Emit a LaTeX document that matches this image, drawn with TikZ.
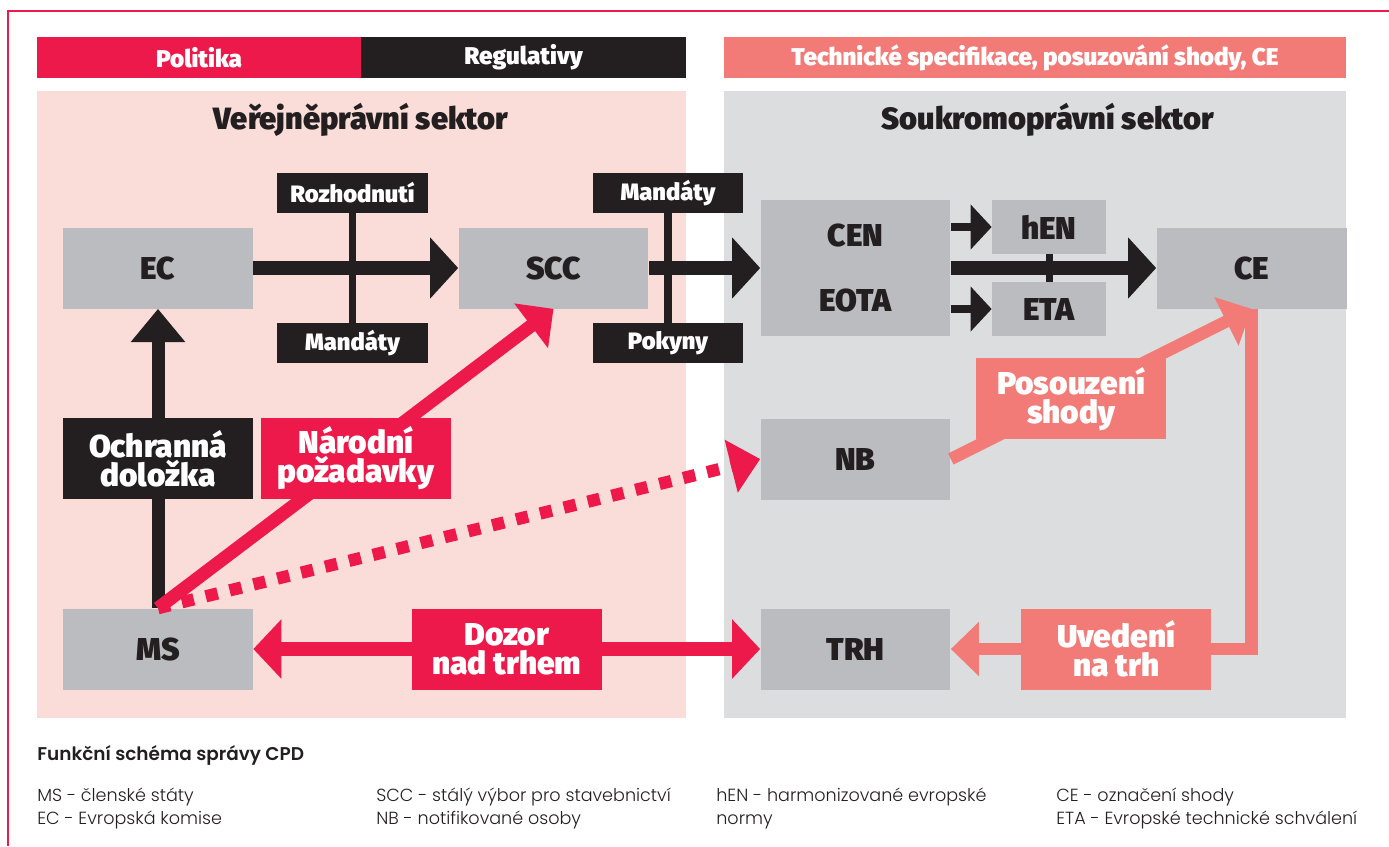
\documentclass[tikz,border=0pt]{standalone}
\usepackage{fontspec}
\setmainfont{Fira Sans}
\newfontfamily\heavyfont{Fira Sans Black}
\newfontfamily\legendfont{Poppins Light}
\newfontfamily\legendhead{Poppins SemiBold}
\usetikzlibrary{arrows.meta, positioning}
\definecolor{crimson}{RGB}{238,25,75}
\definecolor{ink}{RGB}{35,31,32}
\definecolor{salmon}{RGB}{242,123,120}
\definecolor{blush}{RGB}{250,220,216}
\definecolor{mist}{RGB}{220,221,223}
\definecolor{boxgray}{RGB}{187,188,192}

\begin{document}
\begin{tikzpicture}[x=0.02cm, y=-0.02cm]
  \tikzstyle{unit} = [rectangle, fill=boxgray, inner sep=0pt, minimum width=3.8cm, minimum height=1.62cm, font=\heavyfont\fontsize{18}{20}\selectfont, text=ink]
  \tikzstyle{tag} = [rectangle, fill=ink, inner sep=0pt, minimum width=3.02cm, minimum height=0.8cm, font=\heavyfont\fontsize{13.5}{15}\selectfont, text=white]
  \tikzstyle{note} = [rectangle, inner sep=0pt, minimum width=3.8cm, minimum height=1.62cm, align=center, font=\heavyfont\fontsize{18}{16.5}\selectfont, text=white]
  \tikzstyle{head} = [rectangle, inner sep=0pt, minimum height=0.82cm, font=\heavyfont\fontsize{13.8}{15}\selectfont, text=white]
  \tikzstyle{title} = [font=\heavyfont\fontsize{17.5}{19}\selectfont, text=ink]
  \tikzstyle{legend} = [anchor=north west, inner sep=0pt, align=left, font=\legendfont\fontsize{10}{13}\selectfont, text=ink]
  \tikzstyle{stem} = [ink, line width=4pt]
  \tikzstyle{bigarrow} = [ink, line width=8.5pt, -{Triangle[length=16pt, width=34pt]}]
  \tikzstyle{smallarrow} = [ink, line width=5pt, -{Triangle[length=12pt, width=25pt]}]
  \tikzstyle{uparrow} = [ink, line width=7.4pt, -{Triangle[length=19pt, width=30pt]}]
  \tikzstyle{redarrow} = [crimson, line width=7.5pt, -{Triangle[length=16pt, width=31pt]}]
  \tikzstyle{dotarrow} = [crimson, line width=7pt, dash pattern=on 7pt off 7pt, -{Triangle[length=17pt, width=30pt]}]
  \tikzstyle{salarrow} = [salmon, line width=7pt, -{Triangle[length=16pt, width=30pt]}]

  \useasboundingbox (0,0) rectangle (1389,846);
  \draw[crimson, line width=1.2pt] (1389,11) -- (8,11) -- (8,846);

  % sector panels
  \fill[blush] (37,91) rectangle (686,718);
  \fill[mist] (724,91) rectangle (1346,718);

  \node[head, fill=crimson, minimum width=6.48cm] (politika) at (199,57.5) {Politika};
  \node[head, fill=ink, minimum width=6.5cm] (regulativy) at (523.5,57.5) {Regulativy};
  \node[head, fill=salmon, minimum width=12.44cm] (specifikace) at (1035,57.5) {Technické specifikace, posuzování shody, CE};

  \node[title] (verejny) at (361,120) {Veřejněprávní sektor};
  \node[title] (soukromy) at (1048,120) {Soukromoprávní sektor};

  % bodies
  \node[unit] (ec) at (158,268) {EC};
  \node[unit] (scc) at (553.5,268) {SCC};
  \node[unit, minimum height=2.72cm, align=center] (cen) at (855.5,268) {CEN\\[17pt]EOTA};
  \node[unit, minimum width=2.28cm, minimum height=1.08cm] (hen) at (1049,227) {hEN};
  \node[unit, minimum width=2.28cm, minimum height=1.08cm] (eta) at (1049,309) {ETA};
  \node[unit] (ce) at (1251.5,268) {CE};
  \node[unit] (nb) at (855.5,459) {NB};
  \node[unit] (trh) at (855.5,649) {TRH};
  \node[unit] (ms) at (158,649) {MS};

  \node[tag] (rozhodnuti) at (352.5,193) {Rozhodnutí};
  \node[tag] (mandaty) at (352.5,343) {Mandáty};
  \node[tag] (mandatyscc) at (668,193) {Mandáty};
  \node[tag] (pokyny) at (668,343) {Pokyny};

  % regulatory flow
  \draw[stem] (rozhodnuti) -- (mandaty);
  \draw[stem] (mandatyscc) -- (pokyny);
  \draw[stem] (hen) -- (eta);
  \draw[bigarrow] (ec) -- (scc);
  \draw[bigarrow] (scc) -- (cen);
  \draw[bigarrow] (cen) -- (ce);
  \draw[smallarrow] (cen.east |- hen) -- (hen);
  \draw[smallarrow] (cen.east |- eta) -- (eta);

  % member states
  \draw[uparrow] (ms) -- node[note, fill=ink] (ochranna) {Ochranná\\doložka} (ec);
  \draw[dotarrow] (ms.north) -- (nb.west);
  \draw[redarrow] (ms.north) -- node[note, fill=crimson] (narodni) {Národní\\požadavky} (scc.south);
  \draw[redarrow, {Triangle[length=16pt, width=33pt]}-{Triangle[length=16pt, width=33pt]}] (ms) -- node[note, fill=crimson] (dozor) {Dozor\\nad trhem} (trh);

  % conformity
  \draw[salarrow] (nb.east) -- node[pos=0.4, note, fill=salmon] (posouzeni) {Posouzení\\shody} (ce.south);
  \draw[salarrow] (ce.south) |- node[pos=0.725, note, fill=salmon] (uvedeni) {Uvedení\\na trh} (trh);

  % legend
  \node[anchor=west, inner sep=0pt, font=\legendhead\fontsize{10.5}{13}\selectfont, text=ink] (schema) at (37,755) {Funkční schéma správy CPD};
  \node[legend] (key1) at (37,788) {MS - členské státy\\EC - Evropská komise};
  \node[legend] (key2) at (376,788) {SCC - stálý výbor pro stavebnictví\\NB - notifikované osoby};
  \node[legend] (key3) at (716,788) {hEN - harmonizované evropské\\normy};
  \node[legend] (key4) at (1056,788) {CE - označení shody\\ETA - Evropské technické schválení};
\end{tikzpicture}
\end{document}
